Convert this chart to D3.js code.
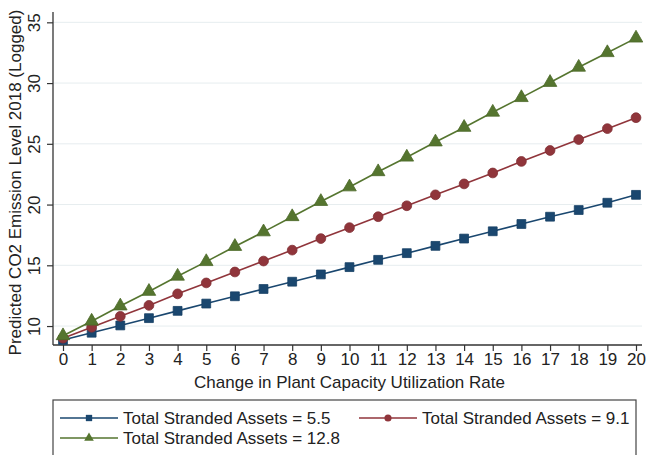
<!DOCTYPE html>
<html><head><meta charset="utf-8">
<script src="https://cdn.jsdelivr.net/npm/d3@7"></script>
<style>html,body{margin:0;padding:0;background:#fff;}svg{display:block;font-family:"Liberation Sans",Arial,sans-serif;}</style>
</head><body>
<svg id="c" width="646" height="455"></svg>
<script>
const xValues = d3.range(0, 21);
const xTicks = d3.range(0, 21);
const yTicks = [10, 15, 20, 25, 30, 35];
const seriesNames = ["Total Stranded Assets = 5.5", "Total Stranded Assets = 9.1", "Total Stranded Assets = 12.8"];
const blueValues = [8.85, 9.45, 10.05, 10.65, 11.25, 11.85, 12.45, 13.05, 13.65, 14.25, 14.85, 15.45, 16.0, 16.6, 17.2, 17.8, 18.4, 19.0, 19.55, 20.15, 20.8];
const redValues = [9.0, 9.9, 10.8, 11.7, 12.65, 13.55, 14.45, 15.35, 16.25, 17.2, 18.1, 19.0, 19.9, 20.8, 21.7, 22.6, 23.55, 24.45, 25.35, 26.25, 27.15];
const greenValues = [9.2, 10.4, 11.65, 12.85, 14.1, 15.3, 16.55, 17.75, 19.0, 20.25, 21.45, 22.7, 23.9, 25.15, 26.35, 27.6, 28.8, 30.05, 31.3, 32.5, 33.7];
const xTitle = "Change in Plant Capacity Utilization Rate";
const yTitle = "Predicted CO2 Emission Level 2018 (Logged)";

const colors = ["#1a476f", "#90353b", "#55752f"];
const shapes = [d3.symbolSquare, d3.symbolCircle, d3.symbolTriangle];
const sizes = [78, 75, 80];
const series = [blueValues, redValues, greenValues].map((v, i) => ({name: seriesNames[i], values: v, color: colors[i], shape: shapes[i], size: sizes[i]}));

const svg = d3.select("#c");
const axisLeftX = 53, axisRightX = 642, axisTopY = 12, axisBottomY = 345;
const x = d3.scaleLinear().domain([0, 20]).range([63, 636]);
const y = d3.scaleLinear().domain([8.44, 35.85]).range([axisBottomY, axisTopY]);

// gridlines
svg.append("g").selectAll("line").data(yTicks).join("line")
  .attr("x1", axisLeftX).attr("x2", axisRightX)
  .attr("y1", d => y(d)).attr("y2", d => y(d))
  .attr("stroke", "#e6edef").attr("stroke-width", 1);

// y axis
const gy = svg.append("g").attr("transform", `translate(${axisLeftX},0)`)
  .call(d3.axisLeft(y).tickValues(yTicks).tickSize(6).tickPadding(3).tickSizeOuter(0));
gy.select(".domain").remove();
gy.append("line").attr("x1", 0).attr("x2", 0).attr("y1", axisTopY).attr("y2", axisBottomY).attr("stroke", "#333").attr("stroke-width", 1.3);
gy.selectAll(".tick line").attr("stroke", "#333").attr("stroke-width", 1.2);
gy.selectAll(".tick text").attr("fill", "#222").style("font-size", "17px")
  .attr("text-anchor", "middle").attr("dy", 0)
  .attr("transform", "translate(-13,0) rotate(-90)").attr("x", 0).attr("y", 0);

// x axis
const gx = svg.append("g").attr("transform", `translate(0,${axisBottomY})`)
  .call(d3.axisBottom(x).tickValues(xTicks).tickSize(6).tickPadding(2).tickSizeOuter(0));
gx.select(".domain").remove();
gx.append("line").attr("x1", axisLeftX).attr("x2", axisRightX).attr("y1", 0).attr("y2", 0).attr("stroke", "#333").attr("stroke-width", 1.3);
gx.selectAll(".tick line").attr("stroke", "#333").attr("stroke-width", 1.2);
gx.selectAll(".tick text").attr("fill", "#222").style("font-size", "17px");

// titles
svg.append("text").attr("x", (axisLeftX + axisRightX) / 2 + 2).attr("y", 388)
  .attr("text-anchor", "middle").style("font-size", "17px").attr("fill", "#222").text(xTitle);
svg.append("text").attr("transform", `translate(21,${(axisTopY + axisBottomY) / 2 + 4}) rotate(-90)`)
  .attr("text-anchor", "middle").style("font-size", "17px").attr("fill", "#222").text(yTitle);

// series
const line = d3.line().x((d, i) => x(xValues[i])).y(d => y(d));
series.forEach(s => {
  const g = svg.append("g");
  g.append("path").datum(s.values).attr("d", line).attr("fill", "none").attr("stroke", s.color).attr("stroke-width", 1.6);
  g.selectAll("path.m").data(s.values).join("path").attr("class", "m")
    .attr("transform", (d, i) => `translate(${x(xValues[i])},${y(d)})`)
    .attr("d", d3.symbol().type(s.shape).size(s.size))
    .attr("fill", s.color).attr("stroke", d3.color(s.color).darker(0.3)).attr("stroke-width", 0.8);
});

// legend
const lg = svg.append("g");
lg.append("rect").attr("x", 53).attr("y", 400).attr("width", 583).attr("height", 70)
  .attr("fill", "#fff").attr("stroke", "#444").attr("stroke-width", 1.2);
const legPos = [{lx: 60, ly: 418}, {lx: 359, ly: 418}, {lx: 60, ly: 438}];
series.forEach((s, i) => {
  const p = legPos[i];
  const item = lg.append("g").attr("transform", `translate(${p.lx},${p.ly})`);
  item.append("line").attr("x1", 0).attr("x2", 58).attr("y1", 0).attr("y2", 0).attr("stroke", s.color).attr("stroke-width", 1.6);
  item.append("path").attr("transform", "translate(29,0)").attr("d", d3.symbol().type(s.shape).size(40)).attr("fill", s.color);
  item.append("text").attr("x", 63).attr("y", 0).attr("dy", "0.35em").style("font-size", "17px").attr("fill", "#222").text(s.name);
});
</script>
</body></html>
